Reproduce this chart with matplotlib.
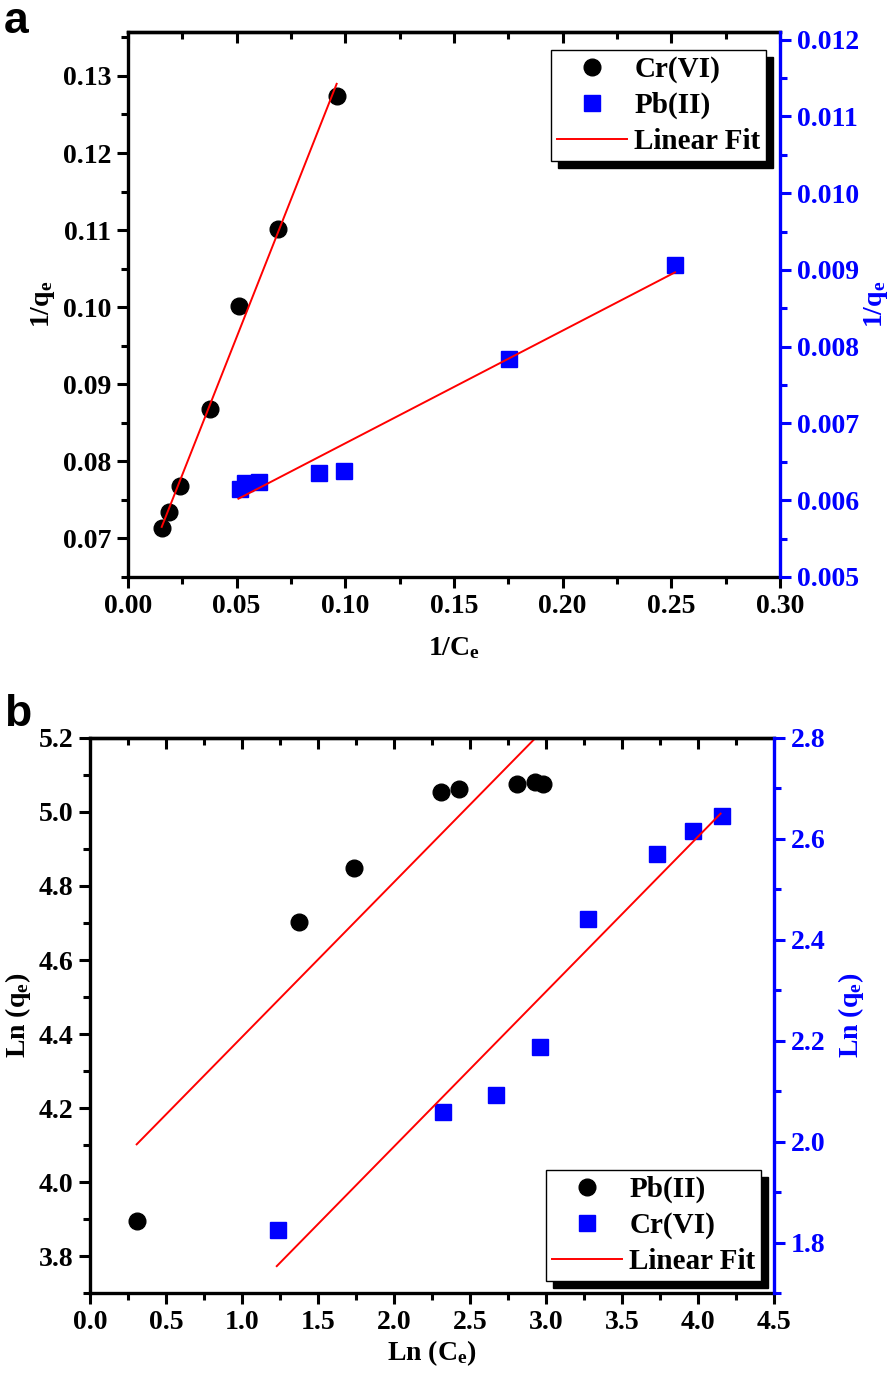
import matplotlib
matplotlib.use('Agg')
import matplotlib.pyplot as plt
from matplotlib.ticker import MultipleLocator, FormatStrFormatter
import numpy as np

plt.rcParams['font.family'] = ['Liberation Serif', 'DejaVu Serif']
plt.rcParams['font.weight'] = 'bold'
plt.rcParams['mathtext.fontset'] = 'custom'
plt.rcParams['mathtext.rm'] = 'Liberation Serif:bold'
plt.rcParams['mathtext.it'] = 'Liberation Serif:bold'
plt.rcParams['mathtext.bf'] = 'Liberation Serif:bold'

# panel a data (Langmuir)
a_cr_x = [0.0155, 0.0189, 0.0241, 0.0377, 0.0512, 0.0689, 0.0960]
a_cr_y = [0.0713, 0.0734, 0.0768, 0.0868, 0.1002, 0.1102, 0.1274]
a_pb_x = [0.0513, 0.0537, 0.0604, 0.0880, 0.0994, 0.1752, 0.2517]
a_pb_y = [0.00615, 0.00622, 0.00624, 0.00635, 0.00638, 0.00784, 0.00907]
a_cr_fit = [0.714, 0.06043]      # slope, intercept
a_cr_fit_x = [0.0155, 0.0960]
a_pb_fit = [0.01468, 0.005274]
a_pb_fit_x = [0.0508, 0.2517]

# panel b data (Freundlich)
b_pb_x = [0.307, 1.376, 1.738, 2.308, 2.429, 2.809, 2.930, 2.984]
b_pb_y = [3.895, 4.702, 4.848, 5.054, 5.062, 5.076, 5.081, 5.076]
b_cr_x = [1.240, 2.326, 2.675, 2.964, 3.276, 3.733, 3.968, 4.161]
b_cr_y = [1.825, 2.059, 2.092, 2.188, 2.441, 2.570, 2.615, 2.645]
b_pb_fit = [0.418, 3.974]
b_pb_fit_x = [0.307, 2.976]
b_cr_fit = [0.3067, 1.377]
b_cr_fit_x = [1.229, 4.150]

FS = 20
fig = plt.figure(figsize=(8.94, 13.79), dpi=100)


def style_axes(ax, ax2, xmaj, xmin, ymaj, ymin, y2maj, y2min, xfmt, yfmt, y2fmt):
    for s in ['left', 'bottom', 'top']:
        ax.spines[s].set_linewidth(2.4)
        ax2.spines[s].set_visible(False)
    ax.spines['right'].set_visible(False)
    ax2.spines['right'].set_linewidth(2.4)
    ax2.spines['right'].set_color('blue')
    ax.xaxis.set_major_locator(MultipleLocator(xmaj))
    ax.xaxis.set_minor_locator(MultipleLocator(xmin))
    ax.yaxis.set_major_locator(MultipleLocator(ymaj))
    ax.yaxis.set_minor_locator(MultipleLocator(ymin))
    ax2.yaxis.set_major_locator(MultipleLocator(y2maj))
    ax2.yaxis.set_minor_locator(MultipleLocator(y2min))
    ax.xaxis.set_major_formatter(FormatStrFormatter(xfmt))
    ax.yaxis.set_major_formatter(FormatStrFormatter(yfmt))
    ax2.yaxis.set_major_formatter(FormatStrFormatter(y2fmt))
    ax.tick_params(axis='both', which='major', direction='out', length=8, width=2.2,
                   labelsize=FS, pad=4)
    ax.tick_params(axis='both', which='minor', direction='out', length=5, width=2.2)
    ax2.tick_params(axis='y', which='major', direction='out', length=8, width=2.2,
                    labelsize=FS, colors='blue', pad=4)
    ax2.tick_params(axis='y', which='minor', direction='out', length=5, width=2.2,
                    colors='blue')
    top = ax.secondary_xaxis('top')
    top.spines['top'].set_linewidth(2.4)
    top.xaxis.set_major_locator(MultipleLocator(xmaj))
    top.xaxis.set_minor_locator(MultipleLocator(xmin))
    top.tick_params(axis='x', which='major', direction='in', length=8, width=2.2,
                    labeltop=False)
    top.tick_params(axis='x', which='minor', direction='in', length=5, width=2.2)
    for lab in ax.get_xticklabels() + ax.get_yticklabels() + ax2.get_yticklabels():
        lab.set_fontweight('bold')


def shadow_legend(ax2, handles, labels, loc, anchor):
    leg = ax2.legend(handles, labels, loc=loc, bbox_to_anchor=anchor,
                     borderaxespad=0, fontsize=FS + 1, frameon=True, fancybox=False,
                     edgecolor='black', framealpha=1, handlelength=2.4,
                     labelspacing=0.3, borderpad=0.2, handletextpad=0.25,
                     shadow={'ox': 5, 'oy': -5, 'color': 'black', 'alpha': 1})
    leg.get_frame().set_linewidth(1.0)
    leg.set_zorder(10)
    return leg


# ---- panel a ----
ax = fig.add_axes([0.1432, 0.5816, 0.7293, 0.3952])
ax2 = ax.twinx()
h1, = ax.plot(a_cr_x, a_cr_y, 'o', color='black', ms=12, ls='none', label='Cr(VI)')
h2, = ax2.plot(a_pb_x, a_pb_y, 's', color='blue', ms=11.5, ls='none', label='Pb(II)')
fx = np.array(a_cr_fit_x)
h3, = ax.plot(fx, a_cr_fit[0] * fx + a_cr_fit[1], color='red', lw=1.4, label='Linear Fit')
fx = np.array(a_pb_fit_x)
ax2.plot(fx, a_pb_fit[0] * fx + a_pb_fit[1], color='red', lw=1.4)
ax.set_xlim(0, 0.30)
ax.set_ylim(0.065, 0.1357)
ax2.set_ylim(0.005, 0.0121)
style_axes(ax, ax2, 0.05, 0.025, 0.01, 0.005, 0.001, 0.0005, '%.2f', '%.2f', '%.3f')
ax.set_xlabel('1/C$_\\mathregular{e}$', fontsize=FS, fontweight='bold', labelpad=12)
ax.set_ylabel('1/q$_\\mathregular{e}$', fontsize=FS, fontweight='bold', labelpad=4)
ax2.set_ylabel('1/q$_\\mathregular{e}$', fontsize=FS, fontweight='bold', color='blue',
               labelpad=2)
shadow_legend(ax2, [h1, h2, h3], ['Cr(VI)', 'Pb(II)', 'Linear Fit'], 'upper right',
              (0.979, 0.967))

# ---- panel b ----
bx = fig.add_axes([0.1007, 0.0621, 0.7648, 0.4029])
bx2 = bx.twinx()
g1, = bx.plot(b_pb_x, b_pb_y, 'o', color='black', ms=12, ls='none', label='Pb(II)')
g2, = bx2.plot(b_cr_x, b_cr_y, 's', color='blue', ms=11.5, ls='none', label='Cr(VI)')
fx = np.array(b_pb_fit_x)
g3, = bx.plot(fx, b_pb_fit[0] * fx + b_pb_fit[1], color='red', lw=1.4, label='Linear Fit')
fx = np.array(b_cr_fit_x)
bx2.plot(fx, b_cr_fit[0] * fx + b_cr_fit[1], color='red', lw=1.4)
bx.set_xlim(0, 4.5)
bx.set_ylim(3.7, 5.2)
bx2.set_ylim(1.7, 2.8)
style_axes(bx, bx2, 0.5, 0.25, 0.2, 0.1, 0.2, 0.1, '%.1f', '%.1f', '%.1f')
bx.set_xlabel('Ln (C$_\\mathregular{e}$)', fontsize=FS, fontweight='bold', labelpad=2)
bx.set_ylabel('Ln (q$_\\mathregular{e}$)', fontsize=FS, fontweight='bold', labelpad=4)
bx2.set_ylabel('Ln (q$_\\mathregular{e}$)', fontsize=FS, fontweight='bold', color='blue',
               labelpad=8)
shadow_legend(bx2, [g1, g2, g3], ['Pb(II)', 'Cr(VI)', 'Linear Fit'], 'lower right',
              (0.982, 0.0227))

fig.text(0.004, 0.999, 'a', fontsize=32, fontweight='bold', family='Liberation Sans',
         va='top', ha='left')
fig.text(0.004, 0.497, 'b', fontsize=32, fontweight='bold', family='Liberation Sans',
         va='top', ha='left')

fig.savefig('out.png', dpi=100)
